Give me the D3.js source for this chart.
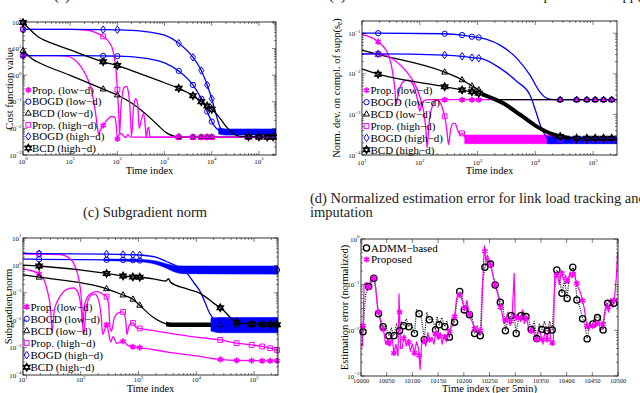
<!DOCTYPE html>
<html><head><meta charset="utf-8">
<script src="https://cdn.jsdelivr.net/npm/d3@7"></script>
<style>body{margin:0;background:#fff}svg{display:block}</style>
</head><body><svg id="c" width="640" height="393" font-family="'Liberation Serif','DejaVu Serif',serif"></svg>
<script>
// ================= DATA =================
// ---- (a) Cost function value ----
const aMarkT = [1, 50, 100, 2000, 4000, 6000, 8000, 10000, 60000, 100000, 150000, 200000];
const aPropLowT = [1, 5, 8.4, 12, 16, 20, 24, 28, 31, 34, 36, 38, 40, 44, 51, 62, 75, 88, 95, 100, 106, 120, 140, 150, 165, 190, 230000];
const aPropLowV = [5.4, 5.4, 5.2, 4.0, 2.4, 1.3, 0.66, 0.28, 0.12, 0.045, 0.021, 0.01, 0.006, 0.009, 0.0135, 0.022, 0.028, 0.026, 0.012, 0.004, 0.0055, 0.0065, 0.0048, 0.0045, 0.0058, 0.0047, 0.0047];
const aBogdLowT = [1, 10, 50, 100, 300, 1000, 2000, 4000, 6000, 8000, 10000, 12000, 14000, 18000, 230000];
const aBogdLowV = [5.4, 5.4, 5.3, 5.2, 4.6, 2.9, 1.45, 0.43, 0.13, 0.043, 0.018, 0.011, 0.0085, 0.0065, 0.0062];
const aBcdLowT = [1, 1.3, 1.6, 2, 10, 50, 100, 200, 400, 700, 1100, 1600, 2500, 230000];
const aBcdLowV = [8.3, 5.5, 4.0, 3.2, 0.99, 0.3, 0.18, 0.09, 0.035, 0.014, 0.0068, 0.0051, 0.0047, 0.0047];
const aPropHighT = [1, 10, 22, 35, 51, 60, 69, 80, 88, 94, 98, 103, 107, 112, 118, 128, 140, 155, 170, 185, 200, 220, 245, 270, 290, 320, 360, 390, 410, 440, 460, 490, 510, 230000];
const aPropHighV = [53, 53, 50, 40, 28, 22, 16, 9, 3.7, 1.4, 0.5, 0.12, 0.035, 0.006, 0.05, 0.2, 0.35, 0.38, 0.25, 0.06, 0.005, 0.06, 0.13, 0.08, 0.01, 0.02, 0.036, 0.012, 0.0045, 0.01, 0.011, 0.005, 0.0047, 0.0047];
const aBogdHighT = [1, 10, 50, 100, 300, 1000, 2000, 4000, 6000, 8000, 10000, 12000, 14500, 18000, 230000];
const aBogdHighV = [53, 53, 52, 51, 46, 32, 16, 4.7, 1.5, 0.43, 0.13, 0.04, 0.013, 0.0068, 0.0062];
const aBogdBandT = [14000, 20000, 230000];
const aBogdBandLo = [0.0062, 0.0056, 0.0056];
const aBogdBandHi = [0.0105, 0.0095, 0.0095];
const aBcdHighT = [1, 1.3, 1.7, 2.2, 3, 10, 50, 100, 300, 1000, 2000, 4000, 6000, 8000, 10000, 15000, 20000, 28000, 40000, 230000];
const aBcdHighV = [95, 60, 38, 26, 20, 8.9, 3.2, 2.3, 1.15, 0.52, 0.32, 0.17, 0.1, 0.07, 0.052, 0.024, 0.012, 0.0066, 0.005, 0.0047];

// ---- (b) Norm. dev. on compl. of supp ----
const bMarkT = [19, 270, 540, 800, 1050, 27000, 52000, 78000, 109000, 152000, 210000];
const bPropLowT = [10, 14, 19, 23, 27, 30, 33, 35, 37, 39, 42, 48, 55, 63, 72, 82, 92, 100, 108, 120, 140, 260000];
const bPropLowV = [0.094, 0.08, 0.062, 0.048, 0.035, 0.024, 0.0137, 0.008, 0.0044, 0.0018, 0.003, 0.0055, 0.0068, 0.007, 0.0062, 0.0042, 0.0022, 0.0012, 0.0018, 0.0022, 0.0023, 0.0023];
const bBogdLowT = [10, 19, 270, 540, 800, 1130, 2450, 4800, 8100, 12000, 16000, 22000, 260000];
const bBogdLowV = [0.1, 0.1, 0.097, 0.09, 0.082, 0.077, 0.051, 0.024, 0.0093, 0.0036, 0.0025, 0.0023, 0.0023];
const bBcdLowT = [10, 19, 270, 540, 800, 1050, 1400, 1900, 260000];
const bBcdLowV = [0.038, 0.030, 0.011, 0.0071, 0.005, 0.004, 0.003, 0.0023, 0.0023];
const bPropHighT = [10, 19, 30, 45, 60, 75, 90, 105, 118, 128, 134, 145, 165, 190, 210, 240, 270, 295, 315, 340, 380, 410, 450, 500, 540, 600, 700, 260000];
const bPropHighV = [0.031, 0.031, 0.026, 0.017, 0.011, 0.007, 0.0042, 0.0022, 0.0011, 0.0004, 0.00015, 0.0006, 0.0016, 0.0022, 0.0022, 0.0016, 0.0009, 0.0004, 0.00018, 0.0004, 0.0006, 0.0006, 0.00042, 0.00032, 0.00034, 0.00028, 0.00025, 0.00024];
const bPropBandT = [600, 25000];
const bPropBandLo = [0.00019, 0.00019];
const bPropBandHi = [0.00031, 0.00031];
const bBogdHighT = [10, 19, 270, 540, 800, 1130, 2450, 4800, 8100, 10000, 12500, 16000, 20000, 260000];
const bBogdHighV = [0.031, 0.031, 0.029, 0.027, 0.025, 0.024, 0.0138, 0.0065, 0.003, 0.0013, 0.0005, 0.00027, 0.00023, 0.00023];
const bBogdBandT = [16000, 260000];
const bBogdBandLo = [0.00019, 0.00019];
const bBogdBandHi = [0.00028, 0.00028];
const bBcdHighT = [10, 19, 270, 540, 800, 1050, 1500, 2750, 5500, 10700, 20400, 35000, 50000, 260000];
const bBcdHighV = [0.013, 0.0098, 0.0048, 0.004, 0.0036, 0.0033, 0.0028, 0.0019, 0.00098, 0.0005, 0.00032, 0.00027, 0.00026, 0.00026];
const bBcdHighDense = [1200, 40000];

// ---- (c) Subgradient norm ----
const cMarkT = [19, 280, 540, 800, 1050, 26000, 50000, 91000, 138000, 190000, 250000];
const cPropLowT = [10, 19, 23, 27, 30, 32, 35, 45, 60, 75, 90, 100, 108, 112, 125, 150, 175, 200, 225, 240, 255, 280, 300, 330, 360, 390, 420, 470, 540, 650, 800, 1050, 3000, 10000, 26000, 50000, 260000];
const cPropLowV = [0.74, 0.5, 0.3, 0.1, 0.025, 0.004, 0.025, 0.08, 0.14, 0.15, 0.1, 0.035, 0.008, 0.003, 0.03, 0.08, 0.09, 0.06, 0.015, 0.003, 0.004, 0.0068, 0.004, 0.0016, 0.0025, 0.0019, 0.0014, 0.0016, 0.0017, 0.0012, 0.00107, 0.001, 0.0007, 0.0005, 0.00037, 0.00034, 0.00033];
const cBogdLowT = [10, 19, 280, 540, 800, 1050, 2000, 3000, 5000, 10000, 260000];
const cBogdLowV = [1.7, 1.67, 1.6, 1.58, 1.55, 1.5, 1.2, 0.9, 0.72, 0.68, 0.68];
const cBogdLowBandT = [250, 1050, 2000, 3000, 4000, 6000, 260000];
const cBogdLowBandLo = [1.5, 1.35, 1.1, 0.8, 0.6, 0.5, 0.48];
const cBogdLowBandHi = [1.7, 1.65, 1.45, 1.15, 1.0, 0.95, 0.95];
const cBcdLowT = [10, 19, 280, 540, 800, 1050, 1700, 2500, 3300, 4000, 260000];
const cBcdLowV = [0.45, 0.37, 0.14, 0.083, 0.058, 0.035, 0.014, 0.0085, 0.007, 0.0068, 0.0068];
const cBcdLowDense = [3000, 40000];
const cPropHighT = [10, 19, 44, 60, 75, 88, 98, 104, 108, 115, 130, 160, 190, 220, 250, 280, 305, 320, 340, 380, 440, 540, 600, 630, 680, 740, 800, 870, 950, 1050, 3000, 10000, 26000, 50000, 91000, 138000, 190000, 260000];
const cPropHighV = [2.6, 2.6, 2.5, 2.0, 1.2, 0.5, 0.15, 0.04, 0.006, 0.03, 0.07, 0.1, 0.11, 0.1, 0.085, 0.072, 0.035, 0.006, 0.004, 0.012, 0.018, 0.02, 0.01, 0.003, 0.006, 0.0075, 0.008, 0.006, 0.0052, 0.005, 0.0035, 0.0024, 0.0019, 0.00145, 0.00125, 0.0011, 0.00095, 0.0008];
const cBogdHighT = [10, 19, 280, 540, 800, 1050, 2000, 3100, 5000, 6900, 9000, 11700, 14500, 17000, 21000, 26000, 260000];
const cBogdHighV = [2.8, 2.7, 2.6, 2.5, 2.45, 2.4, 2.0, 1.36, 0.85, 0.51, 0.24, 0.11, 0.04, 0.018, 0.01, 0.0075, 0.007];
const cBogdHighBandT = [18000, 25000, 260000];
const cBogdHighBandLo = [0.004, 0.0035, 0.0035];
const cBogdHighBandHi = [0.012, 0.0125, 0.0125];
const cBcdHighT = [10, 19, 280, 540, 800, 1050, 2000, 3000, 3300, 3600, 6900, 11700, 20000, 29500, 44000, 57000, 260000];
const cBcdHighV = [1.03, 0.95, 0.51, 0.41, 0.38, 0.37, 0.31, 0.27, 0.33, 0.24, 0.14, 0.095, 0.042, 0.023, 0.01, 0.0078, 0.0068];

// ---- (d) Normalized estimation error ----
const dAdmmT = [10000,10004,10009,10015,10020,10025,10029,10034,10038,10043,10048,10054,10059,10064,10069,10075,10079,10083,10088,10093,10098,10104,10108,10113,10118,10123,10128,10133,10139,10145,10148,10152,10157,10163,10167,10172,10177,10182,10187,10192,10196,10201,10206,10211,10216,10221,10226,10232,10236,10241,10246,10252,10256,10261,10266,10271,10276,10281,10286,10292,10297,10302,10306,10311,10316,10321,10326,10331,10337,10342,10347,10352,10357,10362,10367,10372,10376,10381,10386,10391,10396,10401,10406,10412,10416,10420,10425,10431,10435,10440,10445,10451,10456,10460,10465,10471,10475,10480,10485,10492,10497,10500];
const dAdmmV = [0.0089,0.0093,0.063,0.091,0.112,0.138,0.079,0.023,0.0178,0.012,0.0126,0.0076,0.0112,0.0076,0.0141,0.0098,0.0158,0.0126,0.0178,0.012,0.0141,0.0085,0.028,0.023,0.0178,0.0062,0.025,0.017,0.0178,0.0102,0.02,0.0132,0.019,0.012,0.0158,0.0071,0.0178,0.0151,0.05,0.071,0.063,0.028,0.035,0.022,0.02,0.0085,0.0126,0.0076,0.1,0.24,0.355,0.282,0.178,0.098,0.071,0.041,0.035,0.0098,0.0178,0.021,0.025,0.0085,0.0178,0.021,0.025,0.02,0.0178,0.0105,0.0158,0.0066,0.0141,0.0105,0.0158,0.0098,0.0158,0.0102,0.063,0.209,0.141,0.065,0.126,0.05,0.178,0.24,0.2,0.046,0.035,0.018,0.0141,0.0065,0.0126,0.0138,0.02,0.019,0.02,0.0102,0.025,0.039,0.045,0.039,0.05,0.032];
const dMarkT = [10004,10015,10025,10034,10043,10054,10064,10075,10083,10093,10104,10113,10123,10133,10145,10152,10163,10172,10182,10192,10201,10211,10221,10232,10241,10252,10261,10271,10281,10292,10302,10311,10321,10331,10342,10352,10362,10372,10381,10391,10401,10412,10420,10431,10440,10451,10460,10471,10480,10492];
const dPropT = [10000,10003,10006,10010,10015,10020,10024,10028,10032,10036,10040,10044,10048,10052,10056,10060,10064,10068,10072,10074,10077,10080,10084,10088,10092,10096,10100,10104,10108,10112,10115,10118,10122,10126,10130,10134,10138,10142,10146,10150,10154,10158,10162,10166,10170,10174,10178,10182,10186,10190,10194,10198,10202,10206,10210,10214,10218,10222,10226,10230,10234,10237,10240,10243,10246,10250,10254,10258,10262,10266,10270,10274,10278,10282,10286,10290,10294,10298,10300,10306,10310,10314,10318,10322,10326,10330,10334,10338,10342,10346,10350,10354,10358,10362,10366,10370,10374,10377,10382,10386,10390,10394,10398,10402,10406,10410,10414,10418,10422,10426,10430,10434,10438,10442,10446,10450,10454,10458,10462,10466,10470,10474,10478,10482,10486,10490,10494,10497,10499,10500];
const dPropV = [0.005,0.0045,0.1,0.112,0.089,0.141,0.158,0.1,0.032,0.02,0.0126,0.01,0.005,0.0063,0.0045,0.0079,0.0032,0.005,0.0028,0.063,0.004,0.004,0.0079,0.0045,0.0063,0.0035,0.005,0.0032,0.0056,0.004,0.0014,0.005,0.0063,0.0045,0.0089,0.0056,0.0071,0.005,0.01,0.0063,0.0089,0.005,0.0079,0.0056,0.0079,0.0112,0.0126,0.02,0.05,0.063,0.056,0.04,0.028,0.045,0.025,0.0178,0.0141,0.01,0.0089,0.0079,0.0126,0.126,0.708,0.316,0.447,0.316,0.224,0.141,0.089,0.063,0.035,0.025,0.0141,0.0178,0.025,0.0126,0.02,0.178,0.0178,0.0224,0.0158,0.028,0.0141,0.02,0.0112,0.0089,0.0126,0.0079,0.0063,0.0112,0.0079,0.005,0.01,0.0063,0.0126,0.0056,0.005,0.178,0.158,0.1,0.2,0.126,0.158,0.112,0.178,0.141,0.2,0.126,0.089,0.071,0.05,0.032,0.0158,0.01,0.0141,0.0112,0.0178,0.0126,0.0158,0.01,0.0112,0.025,0.04,0.025,0.05,0.032,0.063,0.158,0.501,0.447];

const legendABC = ["Prop. (low−d)", "BOGD (low−d)", "BCD (low−d)", "Prop. (high−d)", "BOGD (high−d)", "BCD (high−d)"];
const legendD = ["ADMM−based", "Proposed"];

// ================= DRAWING =================
const MAG = '#ff00ff', BLU = '#0000ff', BLK = '#000000';
const svg = d3.select('#c');
const defs = svg.append('defs');
let clipN = 0;

function makePanel(P, xLog) {
  const x = (xLog ? d3.scaleLog() : d3.scaleLinear()).domain(P.xDom).range([P.x0, P.x1]);
  const y = d3.scaleLog().domain(P.yDom).range([P.y1, P.y0]);
  const id = 'clip' + (clipN++);
  defs.append('clipPath').attr('id', id).append('rect')
    .attr('x', P.x0).attr('y', P.y0).attr('width', P.x1 - P.x0).attr('height', P.y1 - P.y0);
  const g = svg.append('g');
  const plot = g.append('g').attr('clip-path', `url(#${id})`);
  return {x, y, g, plot, P, xLog};
}

function yAtX(node, px) {
  const L = node.getTotalLength();
  let lo = 0, hi = L;
  for (let i = 0; i < 40; i++) {
    const m = (lo + hi) / 2;
    if (node.getPointAtLength(m).x < px) lo = m; else hi = m;
  }
  return node.getPointAtLength((lo + hi) / 2).y;
}

function drawMarker(g, type, cx, cy, color) {
  const s = g.append('path').attr('fill', 'none').attr('stroke', color).attr('stroke-width', 1);
  let d;
  if (type === 'ast') {
    d = d3.symbol(d3.symbolAsterisk, 26)();
    s.attr('stroke-width', 1.6).attr('transform', `translate(${cx},${cy})`);
  } else if (type === 'circle') {
    d = d3.symbol(d3.symbolCircle, 22)();
    s.attr('transform', `translate(${cx},${cy})`);
  } else if (type === 'bigcircle') {
    d = d3.symbol(d3.symbolCircle, 30)();
    s.attr('stroke-width', 1.3).attr('transform', `translate(${cx},${cy})`);
  } else if (type === 'square') {
    d = `M${cx-2.4},${cy-2.4}h4.8v4.8h-4.8Z`;
  } else if (type === 'tri') {
    d = `M${cx},${cy-3.4}L${cx+3},${cy+1.9}L${cx-3},${cy+1.9}Z`;
  } else if (type === 'diamond') {
    d = `M${cx},${cy-3.7}L${cx+2.6},${cy}L${cx},${cy+3.7}L${cx-2.6},${cy}Z`;
  } else if (type === 'hex') {
    const R = 3.6, a = R * 0.866, b = R / 2;
    d = `M${cx},${cy-R}L${cx+a},${cy+b}L${cx-a},${cy+b}Z M${cx},${cy+R}L${cx+a},${cy-b}L${cx-a},${cy-b}Z`;
    s.attr('stroke-width', 1.4);
  }
  s.attr('d', d);
}

function drawSeries(A, T, V, st) {
  const pts = T.map((t, i) => [A.x(t), A.y(V[i])]);
  const line = d3.line().curve(st.curve || d3.curveMonotoneX);
  const p = A.plot.append('path').attr('d', line(pts)).attr('fill', 'none')
    .attr('stroke', st.color).attr('stroke-width', st.w || 1.3).attr('stroke-linejoin', 'round');
  if (st.dash) p.attr('stroke-dasharray', st.dash);
  if (st.dense) {
    const id = 'clip' + (clipN++);
    const x0 = A.x(st.dense[0]), x1 = A.x(st.dense[1]);
    defs.append('clipPath').attr('id', id).append('rect')
      .attr('x', x0).attr('y', A.P.y0).attr('width', x1 - x0).attr('height', A.P.y1 - A.P.y0);
    A.plot.append('path').attr('d', line(pts)).attr('fill', 'none').attr('clip-path', `url(#${id})`)
      .attr('stroke', st.color).attr('stroke-width', st.denseW || 4.5);
  }
  if (st.markT) {
    st.markT.forEach(t => {
      const px = A.x(t);
      drawMarker(A.g, st.marker, px, yAtX(p.node(), px), st.color);
    });
  }
  return p;
}

function drawBand(A, T, lo, hi, color) {
  const area = d3.area().curve(d3.curveMonotoneX)
    .x((d, i) => A.x(T[i])).y0((d, i) => A.y(lo[i])).y1((d, i) => A.y(hi[i]));
  A.plot.append('path').attr('d', area(T)).attr('fill', color).attr('stroke', color).attr('stroke-width', 0.6);
}

const isMaj = v => Math.abs(Math.log10(v) - Math.round(Math.log10(v))) < 1e-6;

function pow10Label(g, k, x, y, anchor) {
  const t = g.append('text').attr('x', x).attr('y', y).attr('text-anchor', anchor)
    .attr('font-size', 7).attr('fill', '#111');
  t.append('tspan').text('10');
  t.append('tspan').attr('dy', -3.2).attr('font-size', 5).text(String(k).replace('-', '−'));
}

function drawAxes(A, xLabY) {
  const {x, y, g, P} = A;
  const tk = g.append('g').attr('stroke', '#000').attr('stroke-width', 0.5);
  const xt = A.xLog ? x.ticks() : x.ticks(10);
  xt.forEach(t => {
    const px = x(t), L = (!A.xLog || isMaj(t)) ? 4 : 2;
    tk.append('line').attr('x1', px).attr('x2', px).attr('y1', P.y1).attr('y2', P.y1 - L);
    tk.append('line').attr('x1', px).attr('x2', px).attr('y1', P.y0).attr('y2', P.y0 + L);
    if (A.xLog) {
      if (isMaj(t)) pow10Label(g, Math.round(Math.log10(t)), px, xLabY, 'middle');
    } else {
      g.append('text').attr('x', px).attr('y', xLabY).attr('text-anchor', 'middle')
        .attr('font-size', 6.5).attr('fill', '#111').text(t);
    }
  });
  y.ticks().forEach(t => {
    const py = y(t), L = isMaj(t) ? 4 : 2;
    tk.append('line').attr('y1', py).attr('y2', py).attr('x1', P.x0).attr('x2', P.x0 + L);
    tk.append('line').attr('y1', py).attr('y2', py).attr('x1', P.x1).attr('x2', P.x1 - L);
    if (isMaj(t)) pow10Label(g, Math.round(Math.log10(t)), P.x0 - 1.5, py + 2.5, 'end');
  });
  g.append('rect').attr('x', P.x0).attr('y', P.y0).attr('width', P.x1 - P.x0).attr('height', P.y1 - P.y0)
    .attr('fill', 'none').attr('stroke', '#000').attr('stroke-width', 0.8);
}

function drawLegend(A, items, mx, tx, y0, step, fs) {
  items.forEach((it, i) => {
    const cy = y0 + i * step;
    drawMarker(A.g, it[0], mx, cy, it[1]);
    A.g.append('text').attr('x', tx).attr('y', cy + 3.8).attr('font-size', fs).attr('fill', '#000').text(it[2]);
  });
}

function axisTitles(A, xl, xlY, yl, ylX) {
  A.g.append('text').attr('x', (A.P.x0 + A.P.x1) / 2).attr('y', xlY).attr('text-anchor', 'middle')
    .attr('font-size', 10.5).text(xl);
  const t = A.g.append('text').attr('transform', `translate(${ylX},${(A.P.y0 + A.P.y1) / 2}) rotate(-90)`)
    .attr('text-anchor', 'middle').attr('font-size', 10.5);
  if (typeof yl === 'string') t.text(yl);
  else yl(t);
}

const markers = ['ast', 'circle', 'tri', 'square', 'diamond', 'hex'];
const colors = [MAG, BLU, BLK, MAG, BLU, BLK];
const legItems = legendABC.map((s, i) => [markers[i], colors[i], s]);

// ---------- Panel (a) ----------
const A = makePanel({x0: 23, x1: 276, y0: 22, y1: 155, xDom: [1, 230000], yDom: [1e-3, 1e2]}, true);
drawSeries(A, aPropLowT, aPropLowV, {color: MAG, marker: 'ast', markT: aMarkT});
drawSeries(A, aBogdLowT, aBogdLowV, {color: BLU, marker: 'circle', markT: aMarkT});
drawSeries(A, aBcdLowT, aBcdLowV, {color: BLK, marker: 'tri', markT: aMarkT});
drawSeries(A, aPropHighT, aPropHighV, {color: MAG, marker: 'square', markT: aMarkT});
drawBand(A, aBogdBandT, aBogdBandLo, aBogdBandHi, BLU);
drawSeries(A, aBogdHighT, aBogdHighV, {color: BLU, marker: 'diamond', markT: aMarkT});
drawSeries(A, aBcdHighT, aBcdHighV, {color: BLK, marker: 'hex', markT: aMarkT});
drawAxes(A, 163.5);
drawLegend(A, legItems, 28.3, 32, 90, 11.6, 11);
axisTitles(A, 'Time index', 173.5, 'Cost function value', 12.5);

// ---------- Panel (b) ----------
const B = makePanel({x0: 362, x1: 617, y0: 21, y1: 155, xDom: [10, 260000], yDom: [1e-4, 0.2]}, true);
drawSeries(B, bPropLowT, bPropLowV, {color: MAG, marker: 'ast', markT: bMarkT});
drawSeries(B, bBogdLowT, bBogdLowV, {color: BLU, marker: 'circle', markT: bMarkT});
drawSeries(B, bBcdLowT, bBcdLowV, {color: BLK, marker: 'tri', markT: bMarkT});
drawBand(B, bPropBandT, bPropBandLo, bPropBandHi, MAG);
drawSeries(B, bPropHighT, bPropHighV, {color: MAG, marker: 'square', markT: bMarkT});
drawBand(B, bBogdBandT, bBogdBandLo, bBogdBandHi, BLU);
drawSeries(B, bBogdHighT, bBogdHighV, {color: BLU, marker: 'diamond', markT: bMarkT});
drawSeries(B, bBcdHighT, bBcdHighV, {color: BLK, marker: 'hex', markT: bMarkT, dense: bBcdHighDense, denseW: 4});
drawAxes(B, 165);
drawLegend(B, legItems, 366.5, 370.5, 90.3, 11.9, 11);
axisTitles(B, 'Time index', 174, t => {
  t.append('tspan').text('Norm. dev. on compl. of supp(s');
  t.append('tspan').attr('dy', 2).attr('font-size', 7.5).text('e');
  t.append('tspan').attr('dy', -2).text(')');
}, 339.5);

// ---------- Panel (c) ----------
const C = makePanel({x0: 23, x1: 278, y0: 238, y1: 375, xDom: [10, 260000], yDom: [1e-4, 10]}, true);
drawSeries(C, cPropLowT, cPropLowV, {color: MAG, marker: 'ast', markT: cMarkT});
drawBand(C, cBogdLowBandT, cBogdLowBandLo, cBogdLowBandHi, BLU);
drawSeries(C, cBogdLowT, cBogdLowV, {color: BLU, marker: 'circle', markT: cMarkT});
drawSeries(C, cBcdLowT, cBcdLowV, {color: BLK, marker: 'tri', markT: cMarkT, dense: cBcdLowDense});
drawSeries(C, cPropHighT, cPropHighV, {color: MAG, marker: 'square', markT: cMarkT});
drawBand(C, cBogdHighBandT, cBogdHighBandLo, cBogdHighBandHi, BLU);
drawSeries(C, cBogdHighT, cBogdHighV, {color: BLU, marker: 'diamond', markT: cMarkT});
drawSeries(C, cBcdHighT, cBcdHighV, {color: BLK, marker: 'hex', markT: cMarkT});
drawAxes(C, 382);
drawLegend(C, legItems, 26.7, 30.5, 306.7, 12.1, 11);
axisTitles(C, 'Time index', 391.5, 'Subgradient norm', 11.5);

// ---------- Panel (d) ----------
const D = makePanel({x0: 361, x1: 618, y0: 239, y1: 376, xDom: [10000, 10500], yDom: [1e-3, 1]}, false);
drawSeries(D, dAdmmT, dAdmmV, {color: BLK, w: 1.2, dash: '1,1.3', curve: d3.curveLinear, marker: 'bigcircle', markT: dMarkT});
drawSeries(D, dPropT, dPropV, {color: MAG, w: 1.2, curve: d3.curveLinear, marker: 'ast', markT: dMarkT});
drawAxes(D, 383);
drawLegend(D, [['bigcircle', BLK, legendD[0]], ['ast', MAG, legendD[1]]], 366.5, 371, 248, 11.5, 11);
axisTitles(D, 'Time index (per 5min)', 392, 'Estimation error (normalized)', 348);

// ---------- Sub-figure captions ----------
const cap = (x, y, s) => svg.append('text').attr('x', x).attr('y', y).attr('font-size', 14.5).attr('fill', '#222').text(s);
cap(54, -0.5, '(a) Cost function value');
const tb = svg.append('text').attr('x', 329).attr('y', -0.5).attr('font-size', 14.5).attr('fill', '#222');
tb.append('tspan').text('(b) Normalized deviation on the complement of supp(s');
tb.append('tspan').attr('dy', 3).attr('font-size', 9).text('e');
tb.append('tspan').attr('dy', -3).text(')');
cap(83, 217, '(c) Subgradient norm');
cap(310, 202.5, '(d) Normalized estimation error for link load tracking and');
cap(310, 216.5, 'imputation');
</script></body></html>
